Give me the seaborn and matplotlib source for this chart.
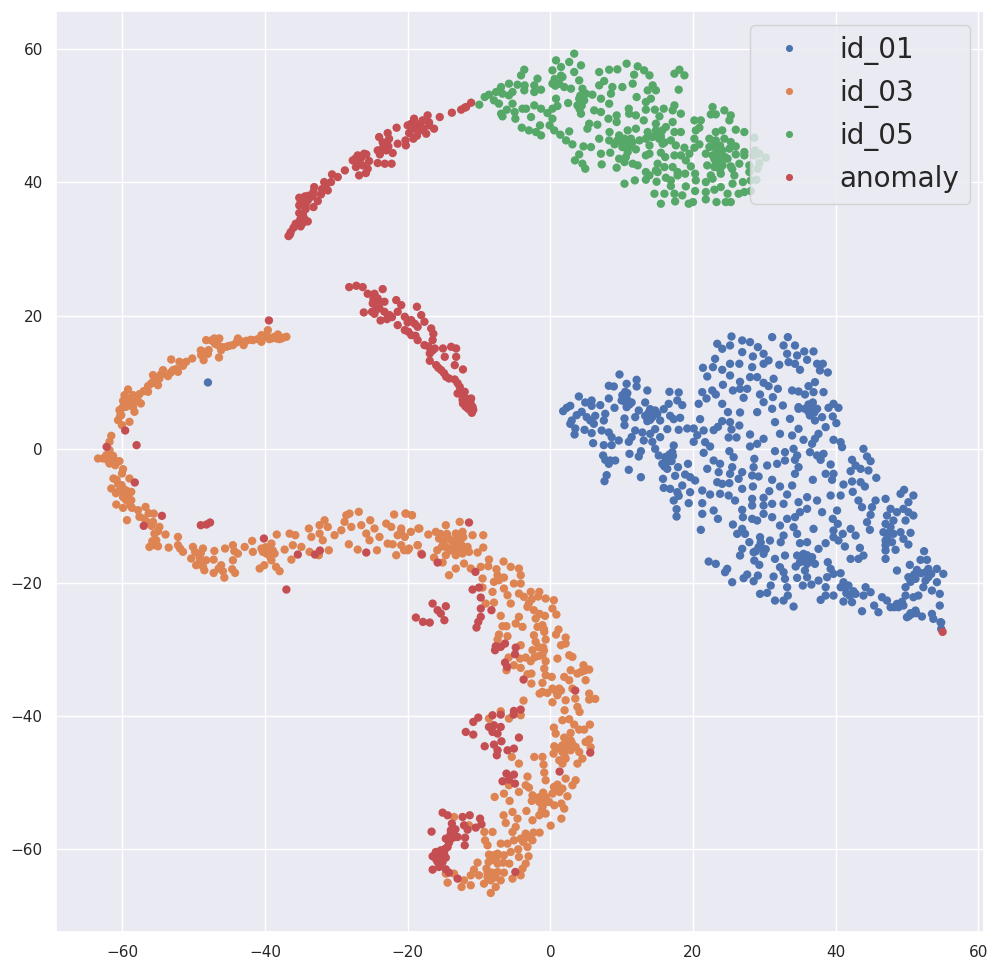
import pandas as pd
import seaborn as sns
import matplotlib.pyplot as plt

# t-SNE embedding, values (x, y)
id_01 = [
    (1.8,5.7),(2.8,6.5),(2.3,6.2),(4.0,7.9),(4.9,7.0),(5.8,7.3),(5.8,6.5),(7.0,6.6),(8.2,7.6),(8.2,9.5),
    (8.9,9.4),(9.7,11.2),(10.7,9.8),(12.1,10.4),(12.1,9.4),(13.6,8.8),(10.5,8.6),(10.0,7.3),(10.7,7.6),(11.4,7.0),
    (10.7,6.3),(9.0,6.2),(4.4,5.6),(3.7,5.1),(3.0,4.3),(2.8,3.8),(3.5,3.1),(3.4,2.2),(4.8,2.9),(5.1,4.8),
    (5.6,4.3),(6.3,5.0),(6.1,3.8),(7.7,5.3),(7.5,4.3),(5.8,2.4),(7.2,2.8),(8.2,2.5),(8.6,1.8),(6.0,0.9),
    (7.5,0.6),(8.6,0.6),(9.6,1.3),(7.4,-0.95),(7.7,-1.6),(8.4,-1.7),(9.1,-1.7),(8.2,-2.2),(11.0,-3.1),(11.1,-0.7),
    (12.7,-0.3),(12.4,-1.1),(12.7,-4.2),(7.9,-3.9),(7.6,-4.8),(10.4,4.6),(10.4,3.6),(11.9,4.8),(12.4,5.8),(13.3,7.0),
    (14.0,6.0),(14.7,5.8),(15.9,6.0),(16.6,6.8),(13.3,5.0),(14.3,4.8),(15.4,4.3),(16.8,5.0),(17.3,4.5),(18.2,4.7),
    (16.7,8.6),(18.0,8.5),(17.8,7.3),(18.5,6.6),(11.9,2.8),(11.4,1.8),(11.0,1.1),(12.9,2.5),(13.1,1.3),(14.0,2.3),
    (14.7,3.0),(15.4,1.8),(16.4,3.0),(14.3,1.1),(18.0,2.9),(19.2,3.1),(20.1,3.1),(20.6,2.1),(20.1,1.1),(21.5,2.8),
    (21.0,4.5),(20.8,6.8),(14.7,0.05),(15.2,-0.95),(17.3,0.55),(17.1,-0.45),(16.1,-1.2),(15.7,-2.2),(16.4,-2.95),(17.9,-2.7),
    (19.3,-2.2),(15.8,-4.45),(17.5,-4.0),(18.9,-3.8),(19.6,-4.2),(20.3,-4.7),(15.9,-5.8),(16.8,-5.95),(18.5,-5.45),(17.8,-6.45),
    (17.3,-7.7),(18.0,-7.0),(19.6,-6.45),(21.3,-6.2),(22.4,-6.8),(19.4,-8.1),(17.7,-9.0),(17.7,-10.1),(21.3,-8.1),(21.3,-9.7),
    (22.9,-9.2),(23.5,-10.45),(21.1,-12.1),(21.4,12.2),(22.0,10.9),(22.8,12.3),(23.4,15.8),(24.1,15.05),(25.2,15.55),(23.1,13.55),
    (24.1,11.9),(25.2,12.8),(25.2,11.05),(26.5,12.8),(25.4,16.9),(26.9,16.3),(28.0,16.05),(26.9,14.55),(29.1,15.3),(28.4,13.9),
    (29.9,14.3),(29.9,12.8),(30.6,13.3),(31.1,16.8),(28.3,12.3),(28.0,10.8),(29.0,10.8),(24.2,9.65),(26.6,10.1),(29.9,9.95),
    (30.6,9.45),(31.3,10.55),(31.9,9.05),(25.6,8.8),(26.6,9.05),(27.6,9.05),(21.3,8.55),(22.7,8.8),(21.9,7.6),(23.2,8.2),
    (27.1,7.7),(29.4,8.2),(29.9,7.05),(31.2,7.8),(24.1,6.8),(24.9,5.55),(26.6,5.5),(29.0,5.55),(31.1,6.05),(32.6,6.55),
    (24.1,4.2),(25.2,4.05),(26.5,3.55),(22.9,2.85),(23.5,3.35),(25.4,2.95),(25.0,1.75),(26.1,1.75),(21.7,1.05),(22.4,0.4),
    (25.1,-0.3),(28.0,2.2),(29.9,1.55),(29.0,0.8),(28.0,0.4),(31.5,4.05),(33.6,4.55),(34.8,6.05),(32.2,2.3),(33.9,2.05),
    (34.8,3.05),(32.7,15.55),(33.3,16.8),(34.3,15.55),(33.2,14.3),(34.6,14.05),(35.6,14.65),(36.9,14.65),(32.1,12.65),(33.4,13.05),
    (34.3,12.8),(35.0,11.9),(36.0,13.4),(37.4,12.8),(38.2,12.8),(37.8,11.8),(38.9,11.5),(37.1,10.05),(36.2,9.45),(33.9,8.8),
    (34.8,8.65),(35.7,8.2),(36.9,8.55),(38.3,8.55),(34.8,6.3),(35.7,6.05),(36.7,6.55),(37.4,6.05),(36.4,5.05),(37.1,4.3),
    (38.1,4.8),(39.0,6.2),(39.7,6.8),(40.4,6.2),(39.6,4.9),(40.1,3.9),(38.6,3.3),(37.6,2.3),(35.5,1.4),(36.7,0.8),
    (37.1,1.55),(39.7,1.4),(40.7,1.05),(40.9,0.3),(36.4,-0.45),(37.4,-0.95),(38.3,-0.7),(37.9,-1.6),(43.9,0.05),(44.4,-1.1),
    (42.3,-1.6),(44.9,-1.8),(42.8,-2.45),(42.1,-3.3),(43.5,-2.95),(44.6,-3.2),(45.7,-4.3),(39.3,-2.3),(38.6,-3.7),(39.7,-3.7),
    (39.5,-4.6),(41.1,-5.3),(42.3,-4.85),(43.5,-4.95),(44.1,-5.6),(42.4,-6.4),(34.1,0.05),(34.6,-0.95),(34.3,-1.6),(32.9,-0.45),
    (32.9,-1.7),(31.8,-2.2),(31.5,-0.3),(30.4,-2.45),(28.6,-1.45),(28.5,-2.7),(28.3,-3.95),(29.2,-4.1),(34.8,-2.7),(34.3,-3.7),
    (36.8,-4.6),(31.1,-4.6),(32.2,-5.6),(33.9,-5.45),(28.4,-5.6),(30.7,-6.3),(26.9,-5.95),(29.9,-7.3),(33.2,-6.8),(21.5,-0.55),
    (22.9,-1.7),(22.0,-2.95),(23.8,-2.2),(23.6,-3.45),(25.7,-1.2),(25.5,-2.7),(26.9,-3.45),(25.2,-3.7),(26.4,-4.45),(23.4,-4.95),
    (24.1,-5.2),(25.1,-5.1),(23.8,-6.7),(25.0,-6.95),(25.9,-7.7),(28.3,-7.45),(28.3,-8.45),(26.9,-9.1),(27.0,-10.2),(28.3,-10.45),
    (29.0,-10.7),(29.9,-8.45),(31.1,-8.2),(32.7,-8.2),(29.9,-9.7),(31.1,-10.2),(34.8,-7.95),(36.0,-7.2),(37.4,-7.7),(36.0,-8.95),
    (35.0,-9.45),(34.3,-10.2),(38.1,-9.45),(39.3,-6.95),(40.7,-6.95),(40.2,-9.2),(39.6,-10.45),(40.3,-11.2),(36.9,-11.95),(33.2,-10.45),
    (32.2,-11.45),(34.1,-11.7),(34.6,-12.7),(32.7,-12.95),(32.3,-13.95),(25.6,-11.3),(26.9,-11.95),(26.2,-12.7),(27.3,-12.7),(27.9,-13.95),
    (29.4,-13.2),(30.8,-13.7),(29.2,-14.7),(29.9,-15.7),(28.5,-15.45),(26.9,-14.95),(26.6,-15.95),(28.6,-16.7),(29.3,-17.35),(31.5,-16.45),
    (32.9,-15.95),(35.0,-14.1),(36.0,-13.95),(37.6,-14.95),(38.6,-14.1),(39.7,-13.2),(39.7,-12.2),(41.0,-12.7),(40.4,-13.7),(41.3,-14.6),
    (42.1,-11.95),(42.8,-12.95),(43.4,-14.8),(44.4,-10.95),(44.8,-12.1),(42.1,-16.45),(43.2,-16.45),(43.9,-15.95),(22.2,-16.85),(23.2,-17.2),
    (24.5,-18.45),(24.8,-17.95),(25.5,-19.95),(27.1,-19.35),(27.6,-18.8),(28.5,-19.8),(29.1,-18.95),(31.3,-19.1),(32.2,-17.7),(32.7,-18.45),
    (32.9,-19.45),(33.2,-20.7),(30.9,-20.45),(29.4,-21.7),(30.4,-21.55),(31.5,-22.7),(32.7,-22.7),(33.3,-21.95),(34.1,-23.6),(34.6,-15.95),
    (35.5,-15.7),(36.7,-16.2),(35.0,-16.95),(36.0,-17.2),(37.1,-17.2),(38.9,-16.95),(34.4,-17.6),(35.7,-18.2),(34.6,-19.3),(36.0,-19.2),
    (35.4,-20.45),(36.6,-20.3),(37.6,-19.7),(38.8,-19.2),(39.3,-17.95),(40.7,-18.6),(39.7,-18.7),(38.6,-20.7),(39.7,-21.95),(38.6,-21.95),
    (37.9,-22.6),(40.7,-20.7),(41.1,-19.95),(41.8,-20.45),(41.1,-22.85),(42.3,-22.95),(42.8,-21.7),(43.9,-21.95),(44.2,-20.7),(44.9,-21.45),
    (43.7,-24.3),(45.4,-23.45),(46.0,-24.45),(46.5,-22.2),(47.2,-22.7),(47.7,-23.7),(48.6,-23.2),(49.5,-23.45),(49.8,-21.95),(50.9,-22.2),
    (51.6,-21.95),(50.0,-25.2),(50.7,-24.7),(52.1,-25.1),(53.5,-24.7),(53.7,-25.45),(54.7,-25.95),(54.8,-26.95),(54.6,-23.45),(54.6,-21.7),
    (47.0,-7.45),(49.1,-6.7),(49.6,-6.1),(50.9,-6.95),(50.2,-7.95),(49.5,-8.95),(47.7,-8.95),(48.6,-9.45),(47.2,-9.95),(50.2,-9.45),
    (50.9,-9.95),(49.8,-10.7),(48.1,-10.7),(47.0,-11.2),(47.7,-11.7),(46.7,-12.45),(48.1,-12.7),(49.1,-12.45),(50.5,-12.55),(47.0,-13.7),
    (47.9,-13.95),(49.5,-13.45),(50.2,-14.3),(48.4,-15.1),(47.0,-15.2),(47.0,-16.45),(52.4,-15.3),(51.9,-16.6),(52.8,-16.6),(50.4,-17.35),
    (48.6,-18.2),(51.4,-18.1),(53.0,-17.95),(54.2,-17.95),(55.1,-18.7),(50.2,-19.2),(51.2,-19.45),(52.6,-19.7),(54.2,-19.95),(49.8,-20.7),
    (52.3,-20.7),(53.5,-21.2),(43.2,-7.7),(43.7,-8.7),(45.6,-7.7),(45.1,-8.7),(44.9,-9.85),(-48.0,10.0),
    # denser patches
    (10.2,7.9),(10.5,7.1),(11.0,7.1),(10.8,8.4),(10.1,8.1),(11.1,6.7),(14.5,5.2),(13.8,5.5),(15.0,5.3),(14.0,4.4),
    (13.6,4.2),(17.2,-1.0),(16.7,-0.8),(16.5,-1.8),(17.0,-1.8),(16.0,-2.6),(36.2,5.6),(36.2,6.7),(37.0,5.5),(36.8,7.0),
    (28.8,-15.3),(29.6,-14.8),(29.5,-14.0),(30.2,-15.0),(35.4,-16.6),(36.3,-16.6),(36.0,-15.9),(48.2,-23.7),(48.8,-23.7),(49.3,-22.9),
    (50.5,-24.6),(51.3,-24.6),(50.3,-25.0),(51.2,-24.2),(47.0,-14.4),(47.3,-13.0),(47.6,-12.5),(52.0,-18.6),(52.7,-18.4),(53.4,-18.7),
    (53.0,-19.2),(51.0,-18.8),(50.5,-19.9),(42.5,-21.3),(41.3,-20.8),(41.5,-21.6),(42.0,-22.0),(54.8,-26.0),
]

id_03 = [
    (-37.0,16.85),(-37.7,16.6),(-38.4,16.6),(-39.1,16.6),(-38.2,17.2),(-39.6,17.85),(-39.8,17.1),(-40.5,17.1),(-40.5,16.1),(-41.7,16.35),
    (-42.6,16.25),(-43.8,16.6),(-43.0,15.6),(-44.5,15.6),(-45.4,15.35),(-46.4,16.6),(-47.1,16.6),(-48.25,16.35),(-46.6,15.6),(-46.15,14.85),
    (-46.45,13.75),(-47.9,14.85),(-48.7,14.6),(-48.95,14.1),(-48.6,13.35),(-50.2,13.6),(-51.05,13.1),(-52.0,13.1),(-53.15,13.45),(-52.2,11.6),
    (-52.9,11.85),(-53.6,10.95),(-54.3,11.85),(-54.8,10.6),(-55.7,11.1),(-55.7,10.1),(-55.0,9.6),(-56.4,9.45),(-56.4,8.6),(-59.2,8.95),
    (-59.7,8.1),(-58.5,8.1),(-57.6,8.25),(-59.9,7.25),(-58.8,7.1),(-57.4,6.85),(-58.5,6.35),(-59.45,6.35),(-60.4,5.85),(-58.3,5.6),
    (-60.15,5.1),(-60.6,4.35),(-59.0,4.1),(-60.05,3.6),(-61.55,2.0),(-61.8,1.1),(-61.8,-0.15),(-62.25,-0.9),(-63.4,-1.4),(-62.7,-1.4),
    (-61.55,-1.4),(-61.1,-1.65),(-60.4,-1.8),(-61.8,-2.15),(-59.9,-3.0),(-60.05,-3.65),(-61.25,-4.4),(-59.0,-4.4),(-60.6,-5.2),(-61.55,-5.9),
    (-60.4,-6.2),(-59.45,-6.2),(-58.75,-6.4),(-59.9,-7.2),(-58.75,-7.65),(-60.85,-8.3),(-59.9,-8.8),(-58.65,-8.8),(-59.35,-10.65),(-57.8,-9.15),
    (-56.75,-8.66),(-57.6,-10.15),(-56.9,-10.4),(-55.6,-9.66),(-55.7,-10.9),(-54.8,-11.66),(-55.5,-12.66),(-53.95,-12.8),(-55.25,-13.66),(-56.2,-14.66),
    (-55.0,-14.56),(-53.5,-14.76),(-52.2,-13.16),(-52.2,-14.4),(-51.5,-15.4),(-50.1,-14.66),(-48.7,-14.9),(-47.1,-15.26),(-50.35,-16.4),(-49.2,-16.16),
    (-48.25,-16.66),(-47.2,-16.56),(-49.65,-17.4),(-48.5,-18.16),(-47.2,-18.56),(-46.15,-17.4),(-45.7,-19.26),(-44.2,-18.56),(-45.6,-14.9),(-44.5,-14.4),
    (-43.8,-15.66),(-44.5,-16.66),(-42.85,-14.66),(-41.8,-13.76),(-41.7,-15.4),(-40.5,-14.9),(-39.8,-15.66),(-39.1,-14.16),(-38.65,-15.66),(-40.75,-17.9),
    (-40.1,-17.4),(-39.1,-16.66),(-38.45,-17.66),(-37.95,-18.3),(-38.35,-12.8),(-37.25,-15.06),(-36.3,-16.56),(-36.55,-12.66),(-35.75,-12.9),(-36.1,-14.4),
    (-34.9,-14.66),(-33.75,-15.4),(-32.45,-15.9),(-33.85,-11.9),(-33.5,-13.16),(-32.35,-11.4),(-31.65,-10.66),(-32.35,-12.66),(-31.2,-11.66),(-31.9,-13.66),
    (-31.05,-15.16),(-30.25,-12.9),(-29.3,-12.16),(-28.6,-9.9),(-28.15,-9.66),(-28.85,-10.9),(-27.9,-11.66),(-28.25,-14.26),(-26.85,-9.4),(-26.5,-11.4),
    (-25.25,-10.66),(-25.8,-12.66),(-24.65,-11.9),(-23.95,-13.16),(-25.35,-13.66),(-27.0,-15.06),(-24.3,-15.16),(-23.0,-11.16),(-21.9,-9.8),(-22.3,-11.66),
    (-20.9,-11.9),(-20.3,-9.66),(-19.4,-9.9),(-18.35,-11.9),(-21.4,-12.9),(-20.4,-13.16),(-22.8,-14.16),(-22.1,-14.26),(-20.9,-14.4),(-20.0,-15.16),
    (-21.6,-15.9),(-18.6,-14.4),(-18.1,-15.66),(-20.25,-9.65),(-19.4,-9.9),(-20.95,-12.4),(-19.55,-12.4),(-20.5,-15.15),(-19.8,-14.9),(-18.5,-11.9),
    (-18.6,-14.4),(-17.1,-12.8),(-16.05,-12.4),(-15.6,-13.4),(-14.65,-11.4),(-14.4,-13.15),(-12.7,-10.9),(-13.25,-12.65),(-12.3,-12.4),(-10.9,-12.9),
    (-9.4,-12.9),(-15.85,-15.15),(-14.65,-14.65),(-13.5,-14.15),(-12.55,-14.15),(-11.6,-14.65),(-9.4,-14.75),(-10.2,-15.5),(-16.3,-16.25),(-15.1,-17.0),
    (-14.65,-15.9),(-13.25,-15.9),(-12.3,-15.65),(-11.4,-15.4),(-12.1,-17.15),(-11.15,-17.9),(-13.25,-17.9),(-14.2,-18.9),(-9.75,-17.65),(-8.6,-16.55),
    (-8.7,-17.55),(-6.55,-16.85),(-5.55,-17.65),(-4.4,-17.9),(-7.55,-18.0),(-7.4,-18.9),(-9.5,-19.4),(-6.5,-19.25),(-4.15,-18.9),(-7.9,-19.9),
    (-7.2,-19.65),(-5.1,-20.15),(-4.15,-20.15),(-9.5,-20.75),(-6.5,-20.9),(-8.1,-21.4),(-6.0,-21.9),(-4.4,-21.65),(-3.7,-22.15),(-2.75,-21.4),
    (-1.55,-21.4),(-0.65,-22.4),(0.5,-22.65),(-9.05,-23.15),(-7.9,-23.0),(-5.55,-23.15),(-3.2,-23.65),(-2.3,-24.15),(0.3,-23.9),(0.85,-24.8),
    (-2.05,-25.4),(-0.75,-25.0),(-6.95,-25.0),(-4.4,-25.15),(-4.85,-26.15),(-3.9,-26.65),(-1.1,-26.4),(-1.8,-26.65),(-6.7,-26.55),(-6.15,-26.55),
    (-2.3,-27.9),(-0.85,-27.4),(-0.65,-28.55),(-2.05,-28.9),(1.15,-27.05),(0.8,-27.8),(2.15,-28.25),(-7.2,-27.8),(-7.4,-28.55),(-6.0,-28.05),
    (1.5,-29.4),(2.15,-29.15),(-4.15,-29.4),(-1.0,-29.75),(-2.5,-30.15),(-1.1,-30.9),(2.65,-30.9),(3.1,-31.15),(1.0,-31.4),(-3.45,-31.25),
    (-2.75,-31.8),(-4.25,-31.4),(-0.65,-31.8),(-5.85,-31.25),(-5.1,-32.4),(-4.15,-32.8),(-6.15,-33.15),(-0.85,-32.9),(-0.65,-33.9),(0.2,-34.15),
    (-3.2,-33.75),(-2.65,-33.65),(-2.65,-35.15),(2.85,-33.15),(1.95,-34.15),(4.65,-32.4),(5.45,-33.05),(3.8,-33.65),(4.95,-34.65),(2.65,-34.65),
    (-1.1,-35.05),(3.1,-35.9),(-1.1,-36.4),(0.3,-35.9),(1.25,-35.9),(-0.4,-36.55),(-1.5,-36.65),(1.0,-36.9),(0.3,-37.95),(2.15,-37.65),
    (3.5,-37.4),(5.45,-36.65),(5.45,-37.55),(6.3,-37.45),(3.8,-38.65),(4.1,-39.4),(-3.75,-37.7),(2.0,-39.15),(1.7,-40.65),(2.65,-40.5),
    (3.35,-41.3),(5.55,-41.3),(0.5,-41.75),(0.75,-42.65),(4.05,-42.05),(4.75,-42.05),(2.85,-42.55),(1.95,-43.25),(2.85,-43.65),(5.45,-43.55),
    (4.95,-43.9),(0.55,-44.55),(1.7,-44.4),(3.55,-44.65),(5.65,-44.7),(0.45,-45.65),(1.7,-45.4),(2.85,-45.15),(4.05,-45.4),(4.5,-46.4),
    (1.25,-46.65),(2.15,-46.4),(3.8,-47.15),(1.7,-47.15),(-5.8,-40.4),(-8.6,-40.4),(-6.95,-39.3),(-4.15,-39.9),(-5.4,-46.15),(-4.4,-47.15),
    (-2.25,-46.15),(-1.1,-46.15),(-0.95,-47.3),(-0.85,-48.5),(-0.65,-49.65),(-3.2,-49.1),(-3.45,-50.4),(-3.0,-50.75),(2.15,-49.4),(3.55,-49.65),
    (3.1,-50.4),(0.5,-50.65),(1.7,-50.9),(-4.4,-51.4),(-5.8,-50.4),(-6.5,-51.65),(-7.8,-52.15),(-5.7,-52.75),(-2.5,-51.9),(-2.6,-52.75),
    (-0.65,-52.15),(0.3,-51.65),(2.4,-52.05),(-1.55,-52.9),(-0.15,-52.9),(1.55,-53.15),(-1.1,-53.65),(0.55,-53.4),(1.95,-53.9),(-3.35,-54.25),
    (-0.65,-54.65),(-1.55,-54.9),(1.55,-55.4),(-2.5,-55.65),(0.05,-56.45),(-6.55,-54.9),(-5.3,-54.4),(-4.6,-55.4),(-6.25,-56.05),(-4.85,-56.65),
    (-11.4,-56.4),(-13.5,-55.15),(-9.25,-57.4),(-8.1,-57.4),(-5.3,-57.4),(-5.1,-58.65),(-3.45,-57.65),(-2.35,-57.5),(-1.5,-57.5),(-4.15,-58.4),
    (-2.5,-58.65),(-9.15,-58.65),(-8.8,-59.4),(-3.2,-59.65),(-6.95,-59.15),(-6.0,-59.15),(-5.55,-60.4),(-4.4,-61.15),(-8.6,-60.8),(-7.4,-60.65),
    (-6.5,-60.9),(-3.05,-61.05),(-10.2,-62.0),(-8.65,-61.9),(-7.4,-62.15),(-5.75,-62.15),(-3.45,-62.15),(-10.7,-63.05),(-8.95,-62.9),(-7.4,-63.4),
    (-6.5,-63.5),(-3.9,-62.9),(-14.65,-63.65),(-13.5,-63.65),(-11.15,-63.9),(-10.0,-63.9),(-8.8,-64.15),(-4.15,-63.9),(-14.4,-65.0),(-12.45,-65.65),
    (-12.1,-64.65),(-11.15,-65.4),(-9.3,-65.15),(-8.35,-64.65),(-6.95,-64.65),(-5.3,-64.4),(-7.65,-65.65),(-8.35,-66.55),
    # denser patches
    (-37.5,16.7),(-38.0,16.5),(-38.8,16.8),(-39.4,16.5),(-40.0,16.9),(-41.0,16.5),(-42.0,16.4),(-43.4,16.2),(-44.0,16.0),(-45.0,15.5),
    (-46.0,15.3),(-47.5,16.3),(-47.0,15.8),(-48.0,14.3),(-49.0,14.8),(-51.5,12.5),(-52.5,12.0),(-53.2,11.5),(-54.6,11.2),(-55.2,10.4),
    (-56.0,9.8),(-57.0,8.7),(-58.0,7.8),(-59.0,7.6),(-59.5,6.9),(-60.0,6.2),(-60.3,5.0),(-58.9,6.8),(-57.8,7.2),(-61.3,-1.0),
    (-62.0,-1.7),(-61.0,-2.4),(-60.8,-4.6),(-60.1,-5.4),(-59.8,-6.0),(-60.9,-6.6),(-59.2,-6.9),(-59.5,-7.6),(-58.9,-8.4),(-56.3,-9.6),
    (-56.5,-11.0),(-55.9,-11.5),(-55.0,-12.3),(-55.8,-13.8),(-55.4,-14.4),(-51.9,-14.9),(-49.8,-15.4),(-49.0,-15.6),(-49.2,-17.0),(-48.7,-17.6),
    (-46.5,-17.9),(-45.9,-18.3),(-44.6,-18.0),(-44.3,-15.3),(-39.9,-14.7),(-40.3,-15.4),(-39.4,-15.0),(-39.3,-16.1),(-38.9,-15.2),(-15.0,-13.8),
    (-14.0,-13.6),(-13.7,-14.7),(-13.0,-13.4),(-14.0,-15.2),(-13.0,-15.0),(-12.2,-13.2),(-12.0,-14.8),(-15.2,-14.6),(-12.9,-14.3),(-14.5,-12.7),
    (-15.4,-12.7),(2.4,-44.2),(2.2,-45.0),(3.0,-44.0),(1.2,-44.9),(2.0,-46.0),(-1.0,-51.5),(-1.6,-52.2),(-0.9,-53.1),(-1.2,-54.2),
    (1.0,-50.3),(1.3,-51.4),(-3.0,-58.2),(-3.8,-58.9),(-4.5,-60.0),(-8.0,-60.9),(-7.9,-61.6),(-7.5,-61.1),(-8.2,-63.5),(-7.7,-64.2),
    (-8.8,-63.6),(-6.6,-62.0),(1.5,-36.2),(0.8,-36.3),(4.3,-33.4),(4.8,-33.2),(-1.6,-29.7),(-0.9,-30.2),(-1.6,-31.0),(-2.2,-31.2),
    (-0.9,-27.0),(-1.7,-22.1),(-2.6,-22.5),(-3.0,-23.1),(-1.5,-24.7),
]

id_05 = [
    (-9.96,51.65),(-9.2,52.8),(-8.6,53.15),(-7.6,53.55),(-6.9,54.3),(-7.1,53.8),(-6.7,53.3),(-7.9,52.3),(-7.2,51.8),(-5.8,54.8),
    (-4.6,54.65),(-5.3,53.55),(-5.8,53.05),(-5.3,51.8),(-3.65,56.9),(-4.1,56.05),(-3.6,54.55),(-3.65,53.8),(-1.8,55.55),(-2.25,54.55),
    (-1.3,53.9),(-2.25,53.55),(-6.1,50.9),(-6.7,49.9),(-6.9,50.3),(-5.0,50.55),(-4.9,49.55),(-3.9,51.05),(-3.4,51.05),(-2.25,51.55),
    (-1.3,51.05),(-2.7,49.8),(-4.0,48.2),(-3.0,47.8),(-2.0,47.55),(-1.3,47.05),(-1.45,48.55),(-0.1,48.55),(0.55,47.8),(1.4,47.15),
    (2.65,47.65),(2.2,46.3),(3.1,45.7),(4.65,45.4),(5.7,45.3),(4.05,44.2),(3.45,43.3),(4.5,42.8),(4.9,42.05),(7.1,44.3),
    (7.2,42.7),(8.4,44.45),(9.3,42.2),(10.4,39.8),(11.85,40.3),(0.3,54.8),(0.8,58.3),(0.3,56.8),(1.5,57.3),(2.65,58.05),
    (3.35,59.3),(4.3,57.55),(3.35,56.55),(1.7,55.8),(1.25,54.8),(1.95,54.3),(2.9,54.05),(4.05,55.3),(4.5,54.05),(5.0,53.3),
    (5.9,53.15),(4.05,52.55),(4.75,52.3),(0.8,52.55),(1.0,51.45),(0.3,51.05),(-0.4,50.4),(0.3,49.55),(2.5,51.9),(3.8,51.55),
    (4.3,50.3),(6.15,50.8),(7.1,50.55),(8.15,49.55),(9.3,50.05),(9.3,49.05),(5.45,48.8),(6.6,48.65),(5.2,48.05),(6.85,56.55),
    (8.25,56.9),(9.4,56.95),(7.55,55.2),(6.85,54.55),(8.7,54.3),(8.5,53.3),(7.1,52.55),(8.25,51.8),(10.7,57.8),(12.25,57.4),
    (13.15,56.8),(13.9,56.05),(11.75,56.15),(11.55,54.8),(10.1,54.3),(14.35,54.55),(13.65,53.8),(14.8,53.8),(12.1,52.8),(13.4,52.05),
    (14.1,52.55),(11.0,51.05),(11.05,50.3),(12.0,50.05),(13.4,50.9),(13.1,49.3),(17.4,56.3),(18.1,56.9),(18.8,56.05),(18.0,53.9),
    (14.65,50.9),(15.9,51.05),(17.4,51.55),(17.15,50.8),(18.3,50.3),(15.3,49.9),(14.8,48.8),(16.2,48.3),(17.15,49.05),(17.4,47.55),
    (18.3,47.55),(20.2,49.3),(21.1,49.3),(20.9,48.2),(20.4,47.8),(22.75,51.3),(22.5,50.2),(23.2,50.2),(24.4,50.8),(25.3,50.05),
    (25.1,49.3),(23.2,47.55),(24.1,47.8),(26.0,47.9),(27.2,47.55),(8.3,47.55),(10.85,47.8),(12.0,48.05),(13.65,47.55),(14.8,47.8),
    (15.5,47.55),(9.65,47.05),(10.4,46.55),(9.4,46.3),(11.3,46.55),(12.5,46.3),(13.4,46.55),(14.3,46.8),(15.25,46.55),(15.75,45.8),
    (16.9,46.3),(17.6,45.55),(6.85,46.55),(8.25,46.3),(9.0,45.7),(10.1,45.3),(10.85,44.55),(12.0,44.95),(13.9,45.55),(10.6,43.8),
    (9.65,43.55),(10.4,43.05),(11.55,42.8),(12.25,42.55),(13.4,44.05),(13.9,44.3),(16.1,43.8),(15.5,44.45),(17.4,44.05),(18.3,44.05),
    (18.8,45.2),(19.5,44.3),(20.2,45.2),(20.9,45.7),(20.2,46.55),(19.0,43.3),(19.7,42.4),(15.05,42.8),(14.8,41.8),(16.0,42.3),
    (17.15,42.3),(17.85,41.55),(13.4,41.55),(13.9,41.05),(13.4,40.4),(15.05,41.55),(16.2,40.7),(14.9,40.1),(16.9,40.3),(17.85,41.05),
    (18.9,41.3),(16.9,39.45),(19.0,39.4),(20.3,41.3),(20.4,40.3),(21.8,40.05),(22.75,40.55),(20.3,38.7),(21.8,38.55),(23.0,38.9),
    (23.9,39.3),(14.6,38.3),(16.0,38.3),(17.4,38.3),(18.5,38.05),(15.5,36.8),(17.5,37.15),(19.4,36.8),(20.0,37.05),(21.8,37.45),
    (23.3,37.05),(24.6,37.05),(25.3,37.05),(24.85,38.3),(26.4,38.3),(27.2,38.55),(28.1,38.7),(22.3,46.55),(23.2,46.3),(24.4,46.55),
    (25.3,46.05),(22.3,45.3),(23.2,45.05),(24.1,44.8),(26.0,45.4),(25.1,45.05),(27.2,44.55),(21.8,44.3),(22.75,44.05),(23.9,43.55),
    (24.85,43.55),(26.0,44.2),(27.2,44.05),(22.0,42.55),(23.0,42.3),(24.15,42.55),(25.3,42.4),(26.5,42.8),(27.9,42.55),(22.5,41.05),
    (23.9,41.3),(25.8,41.05),(27.9,41.55),(25.55,39.8),(27.0,40.05),(28.1,40.3),(28.6,46.7),(28.7,44.8),(29.3,44.3),(28.6,44.05),
    (30.2,43.7),(29.3,42.9),(29.05,42.05),(28.9,40.4),
    # denser patches
    (10.7,46.0),(10.0,46.0),(10.4,45.6),(11.0,45.3),(11.5,46.0),(15.0,47.2),(15.5,46.9),(16.0,46.0),(15.7,47.8),(23.0,45.7),
    (23.8,45.5),(23.0,43.5),(23.5,44.5),(24.0,42.8),(24.5,43.8),(23.2,42.8),(23.8,41.9),(25.5,42.0),(4.2,53.0),(4.5,52.9),
    (4.4,51.5),(4.1,51.0),(1.5,56.0),(0.6,55.5),(0.7,54.5),
]

anomaly = [
    # upper arc
    (-11.1,51.95),(-11.8,51.3),(-12.5,50.9),(-13.8,50.45),(-15.5,49.8),(-17.2,50.05),(-16.3,48.05),(-17.0,48.55),(-17.9,49.3),(-19.1,49.55),
    (-20.0,48.55),(-19.3,48.05),(-18.4,47.8),(-17.4,47.3),(-19.2,46.55),(-19.8,47.4),(-20.3,46.3),(-20.25,45.55),(-21.55,48.2),(-22.8,47.4),
    (-24.0,46.8),(-22.6,46.55),(-21.4,45.8),(-23.3,45.55),(-24.2,44.8),(-23.0,44.8),(-22.1,44.4),(-26.1,44.3),(-27.0,44.05),(-27.7,43.3),
    (-25.4,43.2),(-24.2,42.9),(-23.2,42.8),(-22.25,42.8),(-27.25,42.3),(-26.3,42.55),(-25.6,42.05),(-26.8,41.05),(-25.85,41.4),(-28.8,41.8),
    (-30.6,41.2),(-29.8,40.8),(-31.7,40.05),(-30.75,40.05),(-33.1,39.3),(-31.2,38.8),(-32.15,38.2),(-33.3,38.05),(-35.2,37.7),(-34.0,37.3),
    (-32.6,37.2),(-35.2,36.55),(-34.3,36.55),(-33.2,36.3),(-34.7,35.3),(-35.0,34.55),(-34.0,34.15),(-35.7,33.8),(-34.7,33.9),(-36.4,32.55),
    (-36.7,31.95),(-18.0,48.2),(-18.6,48.7),(-17.8,47.8),(-18.7,47.0),(-17.0,49.0),(-19.5,48.8),(-23.5,46.0),(-23.6,45.0),(-22.7,45.4),
    (-22.9,46.0),(-23.9,44.2),(-27.3,43.6),(-26.5,43.7),(-25.8,44.2),(-27.0,42.9),(-33.9,38.0),(-33.2,38.6),(-34.5,37.0),(-33.6,37.8),
    (-34.4,37.9),(-35.0,37.0),(-32.0,39.0),(-31.5,39.5),(-34.3,36.0),(-35.2,35.4),(-35.2,34.1),(-34.4,34.4),(-35.0,33.4),(-36.0,33.2),
    (-36.5,32.2),(-34.6,34.8),(-12.0,51.2),
    # middle streak
    (-28.2,24.3),(-27.2,24.5),(-26.3,24.3),(-25.6,23.3),(-24.65,23.3),(-23.5,24.0),(-24.9,21.85),(-23.25,22.1),(-23.95,21.1),(-23.25,20.6),
    (-26.15,20.5),(-24.65,20.3),(-23.8,19.3),(-22.55,20.1),(-21.6,22.35),(-20.9,21.6),(-18.7,21.35),(-21.4,20.6),(-20.4,19.85),(-19.5,19.35),
    (-18.1,20.1),(-17.65,19.1),(-18.6,18.35),(-21.4,18.6),(-20.4,17.85),(-19.5,17.1),(-18.6,16.35),(-16.7,18.1),(-16.5,16.35),(-17.65,15.6),
    (-16.2,15.1),(-15.05,15.1),(-13.9,15.35),(-13.2,15.1),(-14.8,13.85),(-16.9,14.35),(-16.9,13.25),(-16.0,12.6),(-15.3,11.85),(-13.2,13.85),
    (-13.4,12.6),(-12.25,11.95),(-14.6,10.85),(-13.4,10.45),(-12.7,9.35),(-12.0,8.6),(-13.0,8.35),(-11.1,7.6),(-11.8,7.6),(-12.25,6.85),
    (-11.3,6.6),(-11.55,6.1),(-11.0,5.45),(-10.9,6.35),(-24.8,22.5),(-24.2,22.6),(-23.9,22.0),(-24.4,21.0),(-25.0,20.6),(-22.9,19.5),
    (-22.2,19.8),(-20.0,19.0),(-19.0,18.8),(-19.9,17.6),(-18.9,17.0),(-16.4,17.3),(-17.1,15.4),(-16.5,14.8),(-15.7,12.2),(-14.9,11.4),
    (-14.2,10.6),(-13.0,9.9),(-12.6,8.8),(-12.3,8.0),(-11.6,7.1),(-11.2,7.0),(-11.9,6.4),(-11.3,5.9),(-10.8,5.9),(-11.7,6.8),(-12.3,7.4),
    # stray points along the orange band
    (-39.45,19.3),(-59.6,2.8),(-58.0,0.6),(-62.2,0.35),(-58.25,-5.0),(-54.45,-10.0),(-57.0,-11.5),(-49.0,-11.4),(-48.2,-11.3),(-47.7,-11.0),
    (-40.15,-13.4),(-35.4,-15.8),(-33.0,-15.8),(-32.3,-15.2),(-25.8,-15.5),(-18.0,-15.8),(-15.8,-17.0),(-11.4,-11.0),(-10.5,-18.4),(-37.0,-21.05),
    (-10.9,-21.05),(-10.0,-20.75),(-9.75,-22.25),(-8.25,-24.15),(-16.5,-23.15),(-14.65,-23.55),(-15.8,-24.15),(-15.35,-24.65),(-14.85,-25.65),(-18.85,-25.25),
    (-17.85,-25.9),(-16.9,-26.0),(-9.75,-23.9),(-9.75,-25.15),(-10.1,-25.9),(-10.35,-26.75),(-7.65,-29.55),(-6.35,-29.15),(-6.95,-29.65),(-7.75,-30.15),
    (-4.85,-29.75),(-4.95,-30.75),(-6.35,-32.0),(-6.05,-32.65),(-3.75,-34.55),(3.5,-36.2),(-5.1,-39.25),(-4.15,-39.05),(-5.15,-39.8),(-6.95,-39.8),
    (-8.1,-39.9),(-10.1,-40.25),(-10.8,-40.9),(-11.85,-42.4),(-10.8,-42.8),(-8.6,-41.65),(-7.9,-41.4),(-6.95,-41.65),(-8.1,-42.4),(-7.4,-42.65),
    (-6.85,-43.8),(-4.4,-43.25),(-7.9,-44.3),(-9.2,-44.55),(-7.4,-45.15),(-7.5,-45.9),(-6.0,-45.15),(-5.1,-44.9),(5.6,-45.5),(1.3,-48.35),
    (-6.15,-48.65),(-5.1,-48.8),(-6.7,-49.8),(-5.8,-49.55),(-4.95,-50.15),(-15.1,-54.5),(-14.4,-54.9),(-12.3,-55.15),(-11.3,-54.9),(-9.85,-55.4),
    (-13.8,-56.15),(-9.65,-56.25),(-12.1,-56.4),(-10.45,-56.75),(-16.65,-57.35),(-11.6,-57.05),(-13.95,-57.15),(-13.0,-58.15),(-11.95,-58.25),(-14.65,-58.4),
    (-13.95,-58.4),(-12.0,-59.4),(-14.4,-59.65),(-15.35,-60.15),(-16.05,-60.4),(-16.5,-61.05),(-15.6,-61.15),(-14.65,-61.25),(-15.8,-61.9),(-15.1,-61.9),
    (-15.6,-62.65),(-16.5,-63.05),(-14.65,-63.0),(-14.2,-63.5),(-13.0,-64.4),(-4.9,-63.4),(55.0,-27.4),
    (-15.2,-60.6),(-15.7,-60.6),(-16.0,-61.5),(-15.3,-61.4),(-14.9,-60.6),(-14.7,-59.9),(-14.2,-59.0),(-14.0,-57.8),(-13.5,-58.2),(-13.3,-57.0),
]

labels = ['id_01', 'id_03', 'id_05', 'anomaly']
groups = [id_01, id_03, id_05, anomaly]

frames = []
for name, pts in zip(labels, groups):
    d = pd.DataFrame(pts, columns=['x', 'y'])
    d['label'] = name
    frames.append(d)
df = pd.concat(frames, ignore_index=True)

sns.set_theme()

fig = plt.figure(figsize=(9.98, 9.72), dpi=100)
ax = fig.add_axes([56 / 998, 1 - 932 / 972, 928 / 998, 921 / 972])
sns.scatterplot(data=df, x='x', y='y', hue='label', hue_order=labels, s=36,
                linewidth=0, ax=ax)
ax.set_xlim(-69.3, 60.8)
ax.set_ylim(-72.4, 65.7)
ax.set_xlabel('')
ax.set_ylabel('')
ax.legend(loc='upper right', fontsize=20, markerscale=0.85)

fig.savefig('out.png', dpi=100)
